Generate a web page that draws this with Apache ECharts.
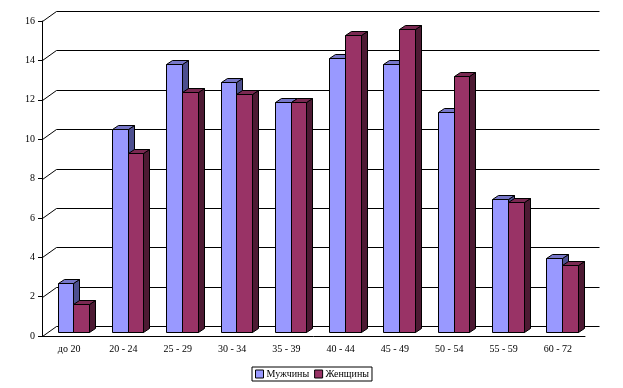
<!DOCTYPE html>
<html>
<head>
<meta charset="utf-8">
<script src="https://cdn.jsdelivr.net/npm/echarts@6/dist/echarts.min.js"></script>
<style>html,body{margin:0;padding:0;background:#fff}#c{width:623px;height:388px}</style>
</head>
<body>
<div id="c"></div>
<script>
const categories = ['до 20','20 - 24','25 - 29','30 - 34','35 - 39','40 - 44','45 - 49','50 - 54','55 - 59','60 - 72'];
const men = [2.5, 10.3, 13.6, 12.7, 11.7, 13.9, 13.6, 11.2, 6.75, 3.75];
const women = [1.4, 9.1, 12.2, 12.1, 11.7, 15.1, 15.4, 13.0, 6.6, 3.4];
const yTicks = [0, 2, 4, 6, 8, 10, 12, 14, 16];
const seriesNames = ['Мужчины', 'Женщины'];

const FONT = '"Liberation Serif", "Times New Roman", serif';
const DEPTH_X = 14, DEPTH_Y = -10;
const BAR_DX = 6, BAR_DY = -4, BAR_LIFT = 4;
const palettes = [
  {front:'#9999FF', top:'#7777C8', side:'#4D4F8F'},
  {front:'#993366', top:'#7A2952', side:'#4D1A33'}
];
const px = v => Math.round(v) + 0.5;

function gridRender(params, api) {
  const v = api.value(1);
  const p = api.coord([0, v]);
  const bw = api.size([1, 0])[0];
  const x0 = px(p[0] - bw / 2);
  const x1 = px(p[0] - bw / 2 + bw * categories.length);
  const y = px(p[1]);
  return {
    type: 'polyline',
    shape: {points: [[x0, y], [x0 + DEPTH_X, y + DEPTH_Y], [x1 + DEPTH_X, y + DEPTH_Y]]},
    style: {stroke: '#000', lineWidth: 1, fill: null}
  };
}

function barRender(k) {
  return function (params, api) {
    const i = api.value(0), v = api.value(1);
    const c = api.coord([i, 0]);
    const t = api.coord([i, v]);
    const bw = api.size([1, 0])[0];
    const start = c[0] - bw / 2;
    const w = bw * 0.29;
    const L = px(start + bw * 0.289 + k * w);
    const R = px(start + bw * 0.289 + (k + 1) * w);
    const yb = px(c[1] - BAR_LIFT);
    const yt = px(t[1] - BAR_LIFT);
    const pal = palettes[k];
    const st = {stroke: '#000', lineWidth: 1};
    return {
      type: 'group',
      children: [
        {type: 'polygon', shape: {points: [[R, yt], [R + BAR_DX, yt + BAR_DY], [R + BAR_DX, yb + BAR_DY], [R, yb]]},
         style: Object.assign({fill: pal.side}, st)},
        {type: 'polygon', shape: {points: [[L, yt], [L + BAR_DX, yt + BAR_DY], [R + BAR_DX, yt + BAR_DY], [R, yt]]},
         style: Object.assign({fill: pal.top}, st)},
        {type: 'rect', shape: {x: L, y: yt, width: R - L, height: yb - yt},
         style: Object.assign({fill: pal.front}, st)}
      ]
    };
  };
}

const chart = echarts.init(document.getElementById('c'), null, {renderer: 'canvas'});
chart.setOption({
  animation: false,
  backgroundColor: '#fff',
  grid: {left: 42, right: 38, top: 21, bottom: 52},
  legend: {
    data: seriesNames.map((n, k) => ({name: n, itemStyle: {color: palettes[k].front, borderColor: '#000', borderWidth: 1}})),
    left: 252, top: 367,
    orient: 'horizontal',
    icon: 'rect',
    itemWidth: 8, itemHeight: 8, itemGap: 5,
    padding: [2, 3, 2, 3],
    borderColor: '#000', borderWidth: 1,
    textStyle: {fontFamily: FONT, fontSize: 10, color: '#000', padding: [0, 0, 0, -2]}
  },
  xAxis: {
    type: 'category',
    data: categories,
    axisLine: {lineStyle: {color: '#000', width: 1}},
    axisTick: {length: 4, lineStyle: {color: '#000'}},
    axisLabel: {fontFamily: FONT, fontSize: 10, color: '#000', margin: 8, interval: 0},
    splitLine: {show: false}
  },
  yAxis: {
    type: 'value',
    min: 0, max: 16, interval: 2,
    axisLine: {show: true, lineStyle: {color: '#000', width: 1}},
    axisTick: {show: true, length: 4, lineStyle: {color: '#000'}},
    axisLabel: {fontFamily: FONT, fontSize: 10, color: '#000', margin: 7},
    splitLine: {show: false}
  },
  series: [
    {type: 'custom', name: '_grid', z: 1, silent: true, renderItem: gridRender,
     data: yTicks.map(v => [0, v]), legendHoverLink: false},
    {type: 'custom', name: seriesNames[0], z: 2, renderItem: barRender(0),
     itemStyle: {color: palettes[0].front}, data: men.map((v, i) => [i, v])},
    {type: 'custom', name: seriesNames[1], z: 3, renderItem: barRender(1),
     itemStyle: {color: palettes[1].front}, data: women.map((v, i) => [i, v])}
  ]
});
</script>
</body>
</html>
